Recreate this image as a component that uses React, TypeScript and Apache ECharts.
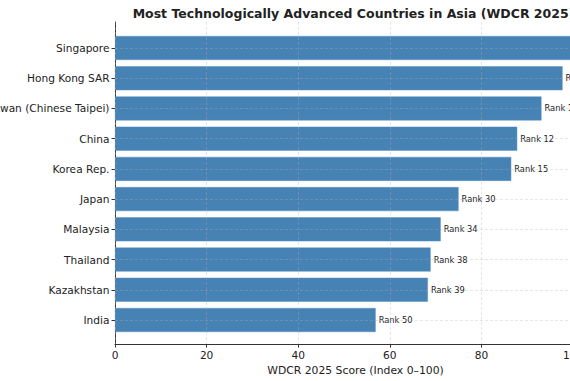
import React, { useEffect, useRef } from "react";
import * as echarts from "echarts";

const countries = [
  "Singapore",
  "Hong Kong SAR",
  "Taiwan (Chinese Taipei)",
  "China",
  "Korea Rep.",
  "Japan",
  "Malaysia",
  "Thailand",
  "Kazakhstan",
  "India",
];
const scores = [100, 97.7, 93.1, 87.8, 86.5, 75.0, 71.1, 68.9, 68.3, 56.9];
const ranks = [3, 4, 10, 12, 15, 30, 34, 38, 39, 50];
const xTicks = [0, 20, 40, 60, 80, 100];

const FONT = "DejaVu Sans";
const OFFSET = 60;

export default function App() {
  const ref = useRef<HTMLDivElement>(null);
  useEffect(() => {
    if (!ref.current) return;
    const chart = echarts.init(ref.current, null, { renderer: "svg" });
    const gridLeft = 115 + OFFSET;
    const gridWidth = 481;
    const gridLine = { show: true, lineStyle: { color: "rgba(176,176,176,0.4)", type: [3, 2], width: 0.8 } };
    chart.setOption({
      animation: false,
      textStyle: { fontFamily: FONT },
      title: {
        text: "Most Technologically Advanced Countries in Asia (WDCR 2025)",
        left: 348.5 + OFFSET,
        textAlign: "center",
        top: 2,
        textStyle: { fontFamily: FONT, fontSize: 12.5, fontWeight: "bold", color: "#222" },
      },
      grid: [
        { left: gridLeft, top: 22, width: gridWidth, height: 324 },
        { left: gridLeft, top: 48, width: gridWidth, height: 272 },
      ],
      xAxis: [
        {
          gridIndex: 0,
          type: "value",
          min: 0,
          max: 105,
          interval: 20,
          z: 5,
          axisLine: { show: true, lineStyle: { color: "#333", width: 1 } },
          axisTick: { show: true, length: 3.5, lineStyle: { color: "#333" } },
          axisLabel: {
            fontSize: 10.6,
            color: "#222",
            margin: 5,
            fontFamily: FONT,
            formatter: (v: number) => (xTicks.includes(v) ? String(v) : ""),
          },
          splitLine: gridLine,
          name: "WDCR 2025 Score (Index 0–100)",
          nameLocation: "middle",
          nameGap: 16,
          nameTextStyle: { fontSize: 10.8, color: "#222", fontFamily: FONT },
        },
        {
          gridIndex: 1,
          type: "value",
          min: 0,
          max: 105,
          show: false,
        },
      ],
      yAxis: [
        {
          gridIndex: 0,
          type: "value",
          min: 0,
          max: 1,
          axisLine: { show: true, lineStyle: { color: "#333", width: 1 } },
          axisTick: { show: false },
          axisLabel: { show: false },
          splitLine: { show: false },
        },
        {
          gridIndex: 1,
          type: "category",
          inverse: true,
          boundaryGap: false,
          data: countries,
          z: 5,
          axisLine: { show: false },
          axisTick: { show: true, length: 3.5, alignWithLabel: true, lineStyle: { color: "#333" } },
          axisLabel: { fontSize: 10.6, color: "#222", margin: 5.5, fontFamily: FONT, interval: 0 },
          splitLine: { ...gridLine, interval: 0 },
        },
      ],
      series: [
        {
          type: "bar",
          xAxisIndex: 1,
          yAxisIndex: 1,
          data: scores,
          barWidth: 24,
          clip: false,
          itemStyle: { color: "#4682b4", borderColor: "#5a93c2", borderWidth: 0.5 },
          label: {
            show: true,
            position: "right",
            distance: 3,
            fontSize: 8.3,
            color: "#222",
            fontFamily: FONT,
            formatter: (p: any) => "Rank " + ranks[p.dataIndex],
          },
        },
      ],
    });
    return () => chart.dispose();
  }, []);
  return (
    <div style={{ position: "fixed", left: 0, top: 0, width: 570, height: 381, overflow: "hidden", background: "#fff" }}>
      <div ref={ref} style={{ position: "absolute", left: -OFFSET, top: 0, width: 700, height: 381 }} />
    </div>
  );
}
